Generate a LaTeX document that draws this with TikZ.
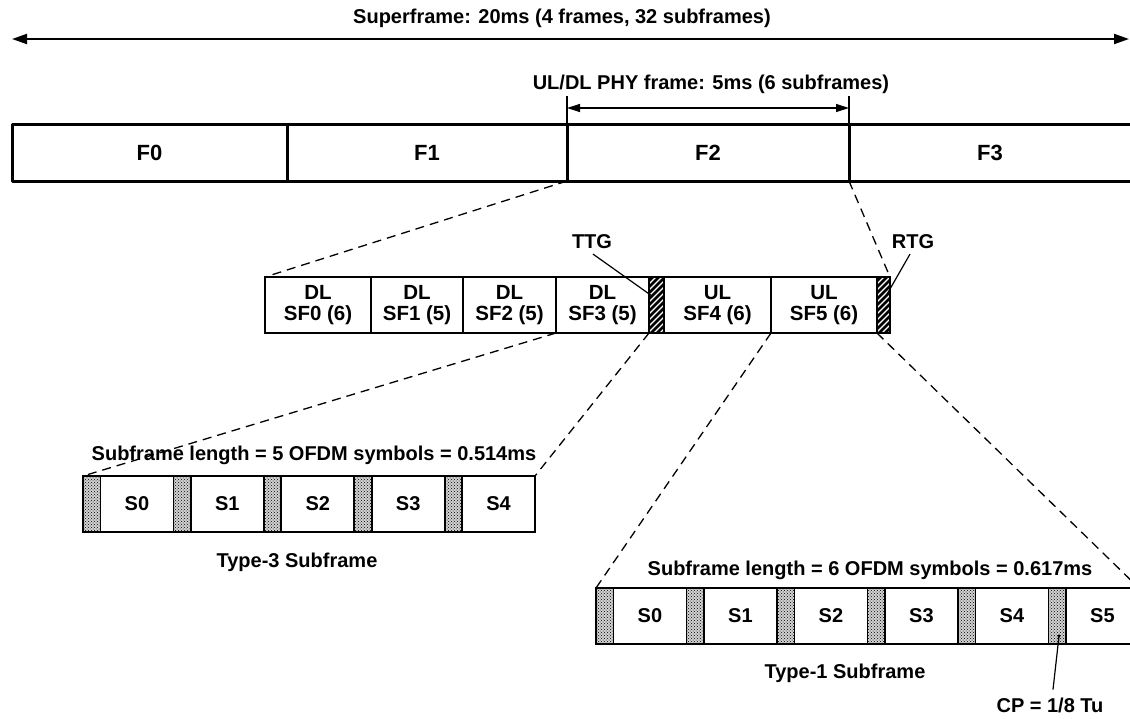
\documentclass[tikz,border=0pt]{standalone}
\usepackage{fontspec}
\setmainfont{Liberation Sans}
\usetikzlibrary{arrows.meta,patterns}
\begin{document}
\begin{tikzpicture}[x=1pt,y=-1pt,
  txt/.style={font=\bfseries\fontsize{20}{20}\selectfont, inner sep=0, outer sep=0},
  fbox/.style={draw, line width=3pt, line join=round, minimum width=#1, minimum height=57pt, anchor=north west, inner sep=0, outer sep=0, font=\bfseries\fontsize{22}{22}\selectfont},
  sfbox/.style={draw, line width=1.8pt, minimum width=#1, minimum height=56pt, anchor=north west, inner sep=0, outer sep=0, align=center, font=\bfseries\fontsize{20.5}{20.5}\selectfont},
  gapbox/.style={draw, line width=1.5pt, minimum width=#1, minimum height=56pt, anchor=north west, inner sep=0, outer sep=0},
  cpbox/.style={draw, line width=1.8pt, fill=gray!35, postaction={pattern=crosshatch dots}, minimum width=17.5pt, minimum height=56pt, anchor=north west, inner sep=0, outer sep=0},
  symbox/.style={draw, line width=1.8pt, minimum width=72.9pt, minimum height=56pt, anchor=north west, inner sep=0, outer sep=0, font=\bfseries\fontsize{20}{20}\selectfont},
  zoomline/.style={dashed, dash pattern=on 9pt off 6pt, line width=1.3pt},
  leader/.style={line width=1.2pt}
]
\useasboundingbox (0,0) rectangle (1130,718);

% superframe
\node[txt] (suptxt) at (562,18) {Superframe: 20ms (4 frames, 32 subframes)};
\coordinate (supL) at (12,39);
\coordinate (supR) at (1129,39);
\draw[line width=2pt, {Triangle[length=15pt,width=10pt]}-{Triangle[length=15pt,width=10pt]}] (supL) -- (supR);

% frames
\node[fbox=275pt] (F0) at (12,124) {F0};
\node[fbox=280pt] (F1) at (287,124) {F1};
\node[fbox=282pt] (F2) at (567,124) {F2};
\node[fbox=282pt] (F3) at (849,124) {F3};

% PHY frame dimension
\node[txt] (phytxt) at (711,84) {UL/DL PHY frame: 5ms (6 subframes)};
\coordinate (tA) at (567,96);
\coordinate (tB) at (849,96);
\coordinate (aA) at (567,108);
\coordinate (aB) at (849,108);
\draw[line width=1.2pt] (F2.north west) -- (tA);
\draw[line width=1.2pt] (F3.north west) -- (tB);
\draw[line width=1.2pt, {Triangle[length=13pt,width=8pt]}-{Triangle[length=13pt,width=8pt]}] (aA) -- (aB);

% subframe row
\node[sfbox=106pt] (DL0) at (265,277) {DL\\SF0 (6)};
\node[sfbox=92pt] (DL1) at (371,277) {DL\\SF1 (5)};
\node[sfbox=93pt] (DL2) at (463,277) {DL\\SF2 (5)};
\node[sfbox=93pt] (DL3) at (556,277) {DL\\SF3 (5)};
\node[gapbox=15pt] (TTG) at (649,277) {};
\node[sfbox=107pt] (UL4) at (664,277) {UL\\SF4 (6)};
\node[sfbox=106pt] (UL5) at (771,277) {UL\\SF5 (6)};
\node[gapbox=13pt] (RTG) at (877,277) {};
\begin{scope}
  \clip (TTG.north west) rectangle (TTG.south east);
  \foreach \k in {0,...,14} {\draw[line width=2.6pt] ({588+6*\k},336) -- ++(66,-66);}
\end{scope}
\begin{scope}
  \clip (RTG.north west) rectangle (RTG.south east);
  \foreach \k in {0,...,14} {\draw[line width=2.6pt] ({816+6*\k},336) -- ++(66,-66);}
\end{scope}
\draw[line width=1.5pt] (TTG.north west) rectangle (TTG.south east);
\draw[line width=1.5pt] (RTG.north west) rectangle (RTG.south east);

\node[txt] (ttgtxt) at (592,242) {TTG};
\node[txt] (rtgtxt) at (913,242) {RTG};
\coordinate (ttgtip) at (652,296);
\coordinate (rtgtip) at (886,296);
\draw[leader] (ttgtxt.south) ++(1,5) -- (ttgtip);
\draw[leader] (rtgtxt.south) ++(-3,5) -- (rtgtip);

% type-3 subframe
\foreach \i in {0,...,4} {
  \node[cpbox] (c3\i) at ({83+90.4*\i},476) {};
  \node[symbox] (s3\i) at ({100.5+90.4*\i},476) {S\i};
}
\node[txt] (len3) at (314,455) {Subframe length = 5 OFDM symbols = 0.514ms};
\node[txt] (type3) at (297,562) {Type-3 Subframe};

% type-1 subframe
\foreach \i in {0,...,5} {
  \node[cpbox] (c1\i) at ({596+90.5*\i},588) {};
  \node[symbox] (s1\i) at ({613.5+90.5*\i},588) {S\i};
}
\node[txt] (len1) at (870,570) {Subframe length = 6 OFDM symbols = 0.617ms};
\node[txt] (type1) at (845,673) {Type-1 Subframe};
\node[txt] (cptxt) at (1050,705) {CP = 1/8 Tu};
\coordinate (cptip) at (1059,636);
\draw[leader] (cptxt.north) ++(3,-8) -- (cptip);
\fill (cptip) circle (1.6pt);

% zoom lines
\draw[zoomline] (F2.south west) -- (DL0.north west);
\draw[zoomline] (F3.south west) -- (RTG.north east);
\draw[zoomline] (DL3.south west) -- (c30.north west);
\draw[zoomline] (TTG.south west) -- (s34.north east);
\draw[zoomline] (UL5.south west) -- (c10.north west);
\draw[zoomline] (RTG.south west) -- (s15.north east);
\end{tikzpicture}
\end{document}
